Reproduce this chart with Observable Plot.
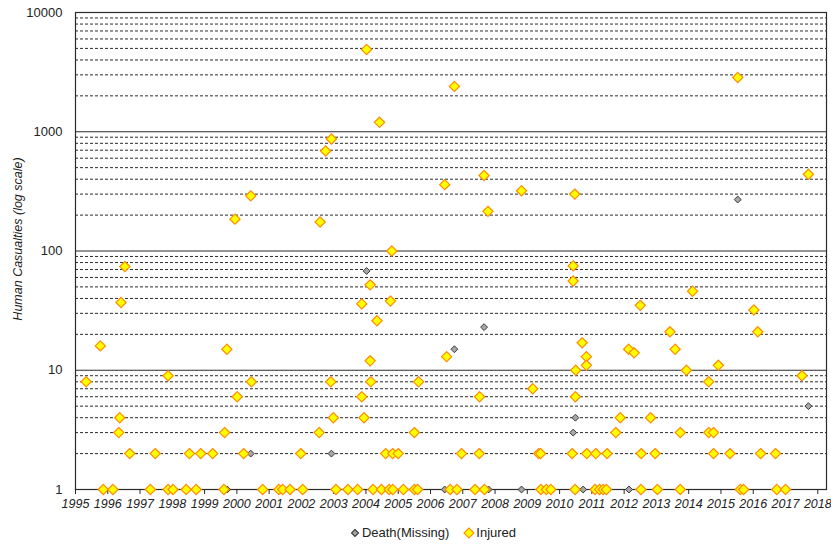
<!DOCTYPE html>
<html>
<head>
<meta charset="utf-8">
<script src="https://cdn.jsdelivr.net/npm/d3@7"></script>
<script src="https://cdn.jsdelivr.net/npm/@observablehq/plot@0.6"></script>
<style>
  html, body { margin: 0; padding: 0; background: #fff; }
  body { width: 831px; height: 547px; overflow: hidden; font-family: "Liberation Sans", Arial, sans-serif; }
  #chart svg { display: block; }
  #legend { height: 29px; display: flex; justify-content: center; align-items: center; font-size: 13px; color: #222; padding-left: 34px; }
  #legend .item { display: flex; align-items: center; margin: 0 7px; }
  #legend svg { margin-right: 1px; }
</style>
</head>
<body>
<div id="chart"></div>
<div id="legend"></div>
<script>
// Decimal-year event dates and casualty counts, per series
const injuredYears = [
  1995.33, 1995.77, 1995.86, 1996.16, 1996.34, 1996.37, 1996.41, 1996.53, 1996.68, 1997.32,
  1997.47, 1997.87, 1997.87, 1998.02, 1998.43, 1998.53, 1998.74, 1998.88, 1999.25, 1999.60,
  1999.62, 1999.69, 1999.94, 2000.01, 2000.21, 2000.43, 2000.45, 2000.80, 2001.30, 2001.42,
  2001.65, 2001.98, 2002.04, 2002.55, 2002.58, 2002.75, 2002.91, 2002.93, 2002.99, 2003.07,
  2003.44, 2003.74, 2003.87, 2003.87, 2003.94, 2004.02, 2004.13, 2004.13, 2004.15, 2004.22,
  2004.34, 2004.42, 2004.48, 2004.61, 2004.72, 2004.76, 2004.80, 2004.83, 2004.83, 2005.00,
  2005.16, 2005.50, 2005.50, 2005.60, 2005.63, 2006.44, 2006.50, 2006.61, 2006.74, 2006.82,
  2006.96, 2007.38, 2007.52, 2007.51, 2007.66, 2007.67, 2007.78, 2008.82, 2009.17, 2009.35,
  2009.41, 2009.42, 2009.59, 2009.73, 2010.39, 2010.42, 2010.42, 2010.47, 2010.48, 2010.49,
  2010.50, 2010.70, 2010.83, 2010.83, 2010.84, 2011.10, 2011.12, 2011.24, 2011.35, 2011.45,
  2011.47, 2011.74, 2011.88, 2012.14, 2012.31, 2012.50, 2012.52, 2012.53, 2012.82, 2012.96,
  2013.03, 2013.42, 2013.58, 2013.74, 2013.74, 2013.93, 2014.12, 2014.62, 2014.62, 2014.77,
  2014.77, 2014.92, 2015.28, 2015.52, 2015.60, 2015.70, 2016.02, 2016.14, 2016.23, 2016.69,
  2016.73, 2017.00, 2017.51, 2017.71
];
const injuredCounts = [
  8, 16, 1, 1, 3, 4, 37, 74, 2, 1,
  2, 9, 1, 1, 1, 2, 1, 2, 2, 1,
  3, 15, 185, 6, 2, 290, 8, 1, 1, 1,
  1, 2, 1, 3, 175, 690, 8, 870, 4, 1,
  1, 1, 36, 6, 4, 4900, 52, 12, 8, 1,
  26, 1200, 1, 2, 1, 38, 100, 2, 1, 2,
  1, 3, 1, 1, 8, 360, 13, 1, 2400, 1,
  2, 1, 6, 2, 430, 1, 215, 320, 7, 2,
  2, 1, 1, 1, 2, 75, 56, 300, 1, 6,
  10, 17, 13, 11, 2, 1, 2, 1, 1, 1,
  2, 3, 4, 15, 14, 35, 1, 2, 4, 2,
  1, 21, 15, 3, 1, 10, 46, 8, 3, 3,
  2, 11, 2, 2850, 1, 1, 32, 21, 2, 2,
  1, 1, 9, 440
];

const deathYears = [
  1999.70, 2000.43, 2002.93, 2004.02, 2006.44, 2006.74, 2007.66, 2007.80, 2008.82, 2010.42,
  2010.49, 2010.73, 2012.15, 2015.52, 2017.71
];
const deathCounts = [
  1, 2, 2, 68, 1, 15, 23, 1, 1, 3,
  4, 1, 1, 270, 5
];

// Axis ticks
const yearTicks = d3.range(1995, 2019);
const countTicks = [1, 10, 100, 1000, 10000];
const majorGrid = [10, 100, 1000];
const minorGrid = [1, 10, 100, 1000].flatMap(b => d3.range(2, 10).map(m => m * b));

const injured = injuredYears.map((year, i) => ({ year, count: injuredCounts[i] }));
const death = deathYears.map((year, i) => ({ year, count: deathCounts[i] }));

const colors = {
  deathFill: "#a6a6a6", deathStroke: "#3a3a3a",
  injuredFill: "#ffff00", injuredStroke: "#ff8c00",
  grid: "#2b2b2b"
};

const chart = Plot.plot({
  width: 831,
  height: 518,
  marginLeft: 75,
  marginRight: 5,
  marginTop: 12,
  marginBottom: 29,
  style: { fontFamily: "Liberation Sans, Arial, sans-serif", fontSize: "12px", color: "#222", background: "#fff" },
  x: { type: "linear", domain: [1995, 2018.27] },
  y: { type: "log", domain: [1, 10000] },
  marks: [
    Plot.ruleY(minorGrid, { stroke: colors.grid, strokeWidth: 1, strokeDasharray: "3,2" }),
    Plot.ruleY(majorGrid, { stroke: colors.grid, strokeWidth: 1.2 }),
    Plot.frame({ stroke: colors.grid, strokeWidth: 1.2 }),
    Plot.axisX({
      ticks: yearTicks, tickFormat: d => String(d), tickSize: 5, tickPadding: 5,
      fontSize: 12.5, fontStyle: "italic", label: null, stroke: colors.grid
    }),
    Plot.axisY({ ticks: countTicks, tickFormat: d => String(d), tickSize: 0, tickPadding: 13, fontSize: 13, label: null }),
    Plot.text(["Human Casualties (log scale)"], {
      text: d => d, frameAnchor: "left", textAnchor: "middle", rotate: -90, dx: -58, dy: -12,
      fontStyle: "italic", fontSize: 12.5, fill: "#222"
    }),
    Plot.dot(death, {
      x: "year", y: "count", symbol: "diamond2", r: 3.1,
      fill: colors.deathFill, stroke: colors.deathStroke, strokeWidth: 1
    }),
    Plot.dot(injured, {
      x: "year", y: "count", symbol: "diamond2", r: 4.6,
      fill: colors.injuredFill, stroke: colors.injuredStroke, strokeWidth: 1.2
    })
  ]
});
document.getElementById("chart").append(chart);

// Legend below the plot
const legendItems = [
  { label: "Death(Missing)", fill: colors.deathFill, stroke: colors.deathStroke, half: 3.5 },
  { label: "Injured", fill: colors.injuredFill, stroke: colors.injuredStroke, half: 5 }
];
const legend = d3.select("#legend");
for (const item of legendItems) {
  const div = legend.append("div").attr("class", "item");
  const s = div.append("svg").attr("width", 12).attr("height", 12);
  const h = item.half;
  s.append("path")
    .attr("d", `M6,${6 - h}L${6 + h},6L6,${6 + h}L${6 - h},6Z`)
    .attr("fill", item.fill).attr("stroke", item.stroke).attr("stroke-width", 1.1);
  div.append("span").text(item.label);
}
</script>
</body>
</html>
